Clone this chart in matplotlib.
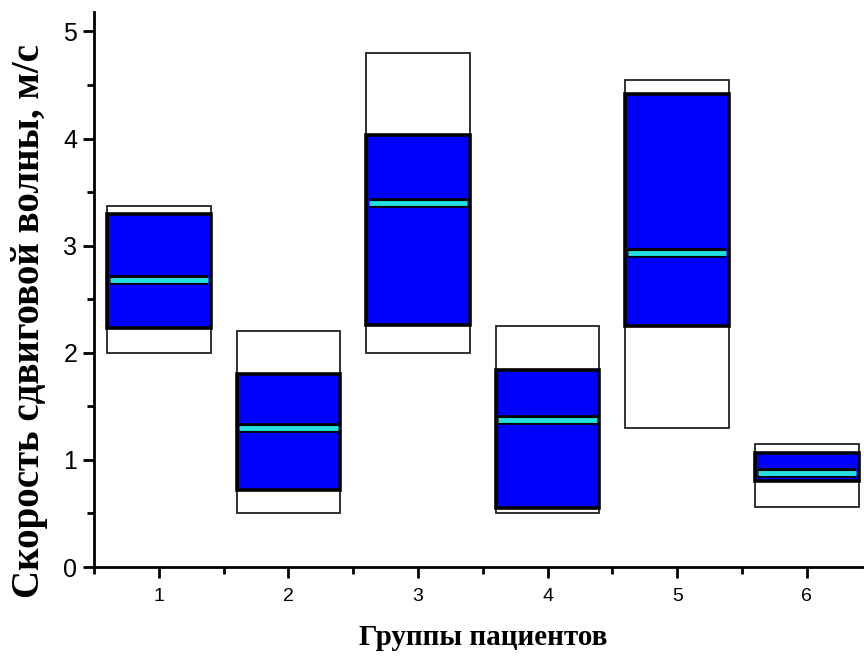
import matplotlib
matplotlib.use("Agg")
import matplotlib.pyplot as plt
from matplotlib.ticker import MultipleLocator

# --- Data ---
groups = [1, 2, 3, 4, 5, 6]
range_low = [2.00, 0.50, 2.00, 0.50, 1.30, 0.56]
range_high = [3.37, 2.20, 4.80, 2.25, 4.55, 1.15]
box_low = [2.23, 0.72, 2.26, 0.55, 2.25, 0.80]
box_high = [3.30, 1.80, 4.03, 1.84, 4.42, 1.06]
medians = [2.68, 1.30, 3.40, 1.37, 2.93, 0.88]

box_width = 0.8

fig = plt.figure(figsize=(8.64, 6.59), dpi=100)
ax = fig.add_axes([0.1088, 0.1396, 0.9, 0.842])

# outer range boxes (white)
ax.bar(groups, [h - l for h, l in zip(range_high, range_low)], bottom=range_low,
       width=box_width, facecolor="white", edgecolor="#222222", linewidth=1.3, zorder=2)
# inner boxes (blue)
ax.bar(groups, [h - l for h, l in zip(box_high, box_low)], bottom=box_low,
       width=box_width, facecolor="#0000ff", edgecolor="black", linewidth=2.6, zorder=3)
# medians: black outline + cyan line
xmin = [g - box_width / 2 + 0.02 for g in groups]
xmax = [g + box_width / 2 - 0.02 for g in groups]
ax.hlines(medians, xmin, xmax, colors="black", linewidth=7, zorder=4)
ax.hlines(medians, xmin, xmax, colors="#22e0e0", linewidth=3.5, zorder=5)

ax.set_xlim(0.5, 6.5)
ax.set_ylim(0, 5.18)
ax.xaxis.set_major_locator(MultipleLocator(1))
ax.xaxis.set_minor_locator(MultipleLocator(0.5))
ax.yaxis.set_major_locator(MultipleLocator(1))
ax.yaxis.set_minor_locator(MultipleLocator(0.5))

for s in ["top", "right"]:
    ax.spines[s].set_visible(False)
for s in ["left", "bottom"]:
    ax.spines[s].set_linewidth(2)

ax.tick_params(axis="both", which="major", direction="out", length=8, width=2)
ax.tick_params(axis="both", which="minor", direction="out", length=5, width=2)
ax.tick_params(axis="y", which="major", labelsize=18, pad=4)
ax.tick_params(axis="x", which="major", labelsize=14, pad=7)
for lab in ax.get_xticklabels() + ax.get_yticklabels():
    lab.set_fontfamily("Liberation Sans")

ax.set_ylabel("Скорость сдвиговой волны, м/с", fontsize=28, fontweight="bold",
              fontfamily="Liberation Serif")
ax.set_xlabel("Группы пациентов", fontsize=21, fontweight="bold",
              fontfamily="Liberation Serif")
ax.yaxis.set_label_coords(-0.059, 0.443)
ax.xaxis.set_label_coords(0.5, -0.103)

fig.savefig("out.png", dpi=100)
